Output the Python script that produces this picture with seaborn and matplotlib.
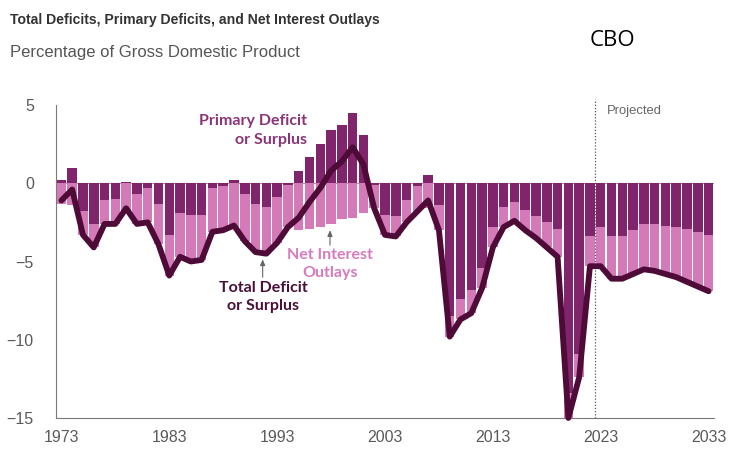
import numpy as np
import pandas as pd
import matplotlib
matplotlib.use("Agg")
import matplotlib.pyplot as plt
import seaborn as sns

# ---- data (percentage of GDP) ----
years = list(range(1973, 2034))
primary = [0.2, 1.0, -1.8, -2.6, -1.1, -1.0, 0.1, -0.7, -0.3, -1.3,
           -3.3, -1.9, -2.0, -2.0, -0.3, -0.2, 0.2, -0.7, -1.3, -1.5,
           -0.9, -0.1, 0.8, 1.7, 2.5, 3.4, 3.7, 4.5, 3.1, -0.1,
           -2.0, -2.1, -1.1, -0.2, 0.5, -1.4, -8.5, -7.4, -6.8, -5.4,
           -2.8, -1.5, -1.2, -1.7, -2.1, -2.5, -2.9, -13.4, -10.9, -3.4,
           -2.8, -3.4, -3.4, -3.0, -2.6, -2.6, -2.7, -2.8, -2.9, -3.1, -3.3]
net_interest = [1.3, 1.4, 1.5, 1.5, 1.5, 1.6, 1.7, 1.9, 2.2, 2.6,
                2.6, 2.8, 3.0, 2.9, 2.8, 2.8, 2.9, 3.0, 3.1, 3.0,
                2.9, 2.7, 3.0, 2.9, 2.8, 2.6, 2.3, 2.2, 1.9, 1.5,
                1.3, 1.3, 1.4, 1.6, 1.6, 1.6, 1.3, 1.3, 1.5, 1.3,
                1.3, 1.3, 1.2, 1.3, 1.4, 1.6, 1.8, 1.6, 1.5, 1.9,
                2.5, 2.7, 2.7, 2.8, 2.9, 3.0, 3.1, 3.2, 3.4, 3.5, 3.6]
total = [-1.1, -0.4, -3.3, -4.1, -2.6, -2.6, -1.6, -2.6, -2.5, -3.9,
         -5.9, -4.7, -5.0, -4.9, -3.1, -3.0, -2.7, -3.7, -4.4, -4.5,
         -3.8, -2.8, -2.2, -1.2, -0.3, 0.8, 1.4, 2.3, 1.2, -1.6,
         -3.3, -3.4, -2.5, -1.8, -1.1, -3.0, -9.8, -8.7, -8.3, -6.7,
         -4.1, -2.8, -2.4, -3.0, -3.5, -4.1, -4.7, -15.0, -12.4, -5.3,
         -5.3, -6.1, -6.1, -5.8, -5.5, -5.6, -5.8, -6.0, -6.3, -6.6, -6.9]
x_tick_years = [1973, 1983, 1993, 2003, 2013, 2023, 2033]
y_ticks = [5, 0, -5, -10, -15]

DARK = "#80246B"
PINK = "#D57AB9"
LINE = "#4E0B37"
GRAY = "#5a5a5a"

sns.set_style("white")
plt.rcParams['font.family'] = ['Liberation Sans', 'DejaVu Sans']

df = pd.DataFrame({"year": years, "primary": primary,
                   "interest": net_interest, "total": total})
df["pink_extent"] = np.minimum(df["primary"], 0) - df["interest"]

fig = plt.figure(figsize=(7.29, 4.53), dpi=100)
ax = fig.add_axes([56 / 729, 35 / 453, 658 / 729, 313 / 453])

ax.axhline(0, color="#9a9a9a", lw=0.8, zorder=1)
sns.barplot(data=df, x="year", y="pink_extent", native_scale=True, width=0.88,
            color=PINK, saturation=1, errorbar=None, linewidth=0, ax=ax, zorder=2)
sns.barplot(data=df, x="year", y="primary", native_scale=True, width=0.88,
            color=DARK, saturation=1, errorbar=None, linewidth=0, ax=ax, zorder=3)
sns.lineplot(data=df, x="year", y="total", color=LINE, lw=4.2, ax=ax, zorder=5)
for ln in ax.lines[-1:]:
    ln.set_clip_on(False)
    ln.set_solid_joinstyle("round")

ax.set_xlim(1972.5, 2033.5)
ax.set_ylim(-15, 5)
ax.set_xlabel("")
ax.set_ylabel("")
ax.set_xticks(x_tick_years)
ax.set_xticklabels([str(y) for y in x_tick_years])
ax.set_yticks(y_ticks)
for s in ["top", "right"]:
    ax.spines[s].set_visible(False)
for s in ["left", "bottom"]:
    ax.spines[s].set_color("#7a7a7a")
    ax.spines[s].set_linewidth(0.8)
ax.tick_params(axis="x", direction="in", length=5, width=0.8, color="#7a7a7a",
               pad=9, labelsize=11.5, labelcolor=GRAY)
ax.tick_params(axis="y", direction="out", length=3, width=0.8, color="#7a7a7a",
               pad=13, labelsize=11.5, labelcolor=GRAY)

# projection divider
ax.plot([2022.5, 2022.5], [-15, 5.4], ls=(0, (1, 1.5)), color="#555555", lw=0.9,
        clip_on=False, zorder=4)
ax.text(2023.6, 4.6, "Projected", fontsize=9.4, color="#666666", va="center", ha="left")

# annotations
lab = dict(family=["Lato", "DejaVu Sans"], fontweight="bold", fontsize=11.5)
ax.text(1995.8, 3.95, "Primary Deficit", color="#8B3579", ha="right", va="center", **lab)
ax.text(1995.8, 2.78, "or Surplus", color="#8B3579", ha="right", va="center", **lab)
ax.text(1997.9, -4.6, "Net Interest", color="#D67BBD", ha="center", va="center", **lab)
ax.text(1997.9, -5.75, "Outlays", color="#D67BBD", ha="center", va="center", **lab)
ax.text(1991.7, -6.7, "Total Deficit", color="#4A1038", ha="center", va="center", **lab)
ax.text(1991.7, -7.85, "or Surplus", color="#4A1038", ha="center", va="center", **lab)
arrow = dict(arrowstyle="-|>,head_length=0.35,head_width=0.15", color="#666666", lw=0.8,
             shrinkA=0, shrinkB=0)
ax.annotate("", xy=(1997.9, -3.0), xytext=(1997.9, -3.95), arrowprops=arrow)
ax.annotate("", xy=(1991.66, -4.86), xytext=(1991.66, -6.0), arrowprops=arrow)

# titles
fig.text(10 / 729, 1 - 20 / 453, "Total Deficits, Primary Deficits, and Net Interest Outlays",
         fontsize=10.1, fontweight="bold", color="#333333", va="center", ha="left")
fig.text(10 / 729, 1 - 53 / 453, "Percentage of Gross Domestic Product",
         fontsize=12, color="#555555", va="center", ha="left")
fig.text(590 / 729, 1 - 40 / 453, "CBO", fontsize=16, color="black",
         family=["Open Sans", "DejaVu Sans"], va="center", ha="left")

fig.savefig("out.png", dpi=100, facecolor="white")
